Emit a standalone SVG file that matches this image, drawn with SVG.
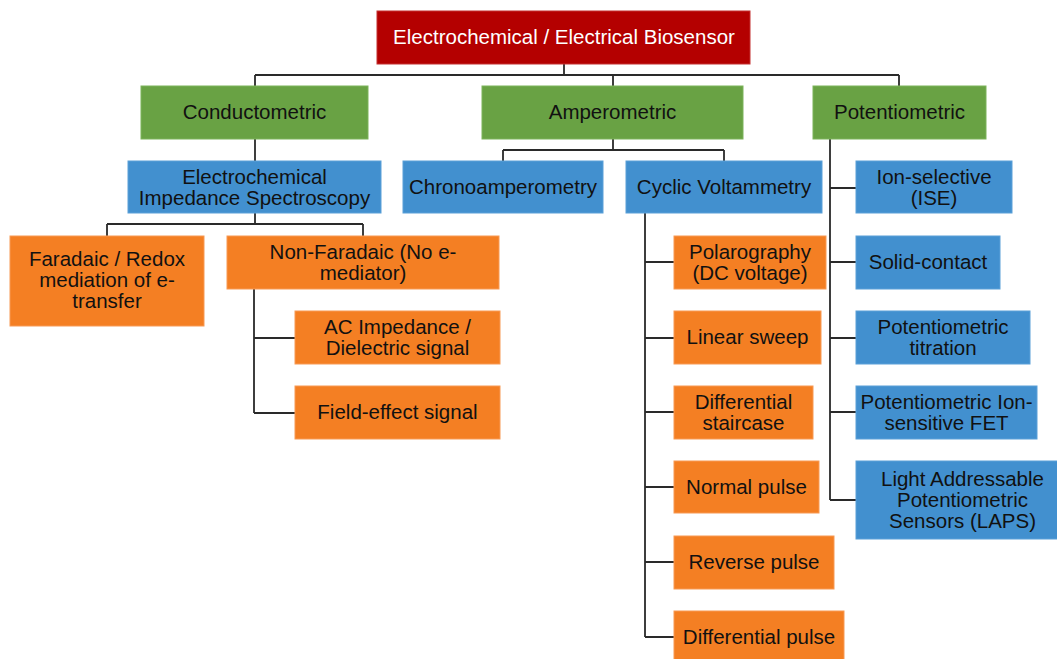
<svg xmlns="http://www.w3.org/2000/svg" width="1057" height="659" viewBox="0 0 1057 659">
<style>
  .box { stroke-width: 1; }
  .red { fill: #B40000; stroke: #C43030; }
  .green { fill: #69A244; stroke: #7DB35A; }
  .blue { fill: #4290CF; stroke: #5AA0D8; }
  .orange { fill: #F47F23; stroke: #F89A55; }
  text { font-family: "Liberation Sans", Arial, sans-serif; font-size: 20.5px; text-anchor: middle; fill: #111; }
  text.w { fill: #FFFFFF; }
  .conn { fill: none; stroke: #2A2A2A; stroke-width: 1.8; }
</style>
<rect width="1057" height="659" fill="#FFFFFF"/>
<g id="connectors" class="conn">
  <path d="M564,64 V75 M255,75 H899 M255,75 V86 M613,75 V86 M899,75 V86"/>
  <path d="M255,139 V161"/>
  <path d="M255,213 V224 M107,224 H363 M107,224 V236 M363,224 V236"/>
  <path d="M254,289 V413 M254,338 H295 M254,413 H295"/>
  <path d="M613,139 V150 M503,150 H724 M503,150 V161 M724,150 V161"/>
  <path d="M645,213 V637 M645,262 H674 M645,338 H674 M645,412 H674 M645,487 H674 M645,562 H674 M645,637 H674"/>
  <path d="M830,139 V500 M830,188 H856 M830,262 H856 M830,338 H856 M830,412 H856 M830,500 H856"/>
</g>
<g id="root"><rect class="box red" x="377" y="11" width="373" height="53"/><text class="w" x="564" y="44">Electrochemical / Electrical Biosensor</text></g>
<g id="conductometric"><rect class="box green" x="141" y="86" width="227" height="53"/><text x="254.5" y="119">Conductometric</text></g>
<g id="amperometric"><rect class="box green" x="482" y="86" width="261" height="53"/><text x="612.5" y="119">Amperometric</text></g>
<g id="potentiometric"><rect class="box green" x="813" y="86" width="173" height="53"/><text x="899.5" y="119">Potentiometric</text></g>
<g id="eis"><rect class="box blue" x="128" y="161" width="253" height="52"/><text x="254.5" y="183.5">Electrochemical</text><text x="254.5" y="204.5">Impedance Spectroscopy</text></g>
<g id="chrono"><rect class="box blue" x="403" y="161" width="200" height="52"/><text x="503" y="194">Chronoamperometry</text></g>
<g id="cv"><rect class="box blue" x="626" y="161" width="196" height="52"/><text x="724" y="194">Cyclic Voltammetry</text></g>
<g id="ise"><rect class="box blue" x="856" y="161" width="156" height="52"/><text x="934" y="183.5">Ion-selective</text><text x="934" y="204.5">(ISE)</text></g>
<g id="faradaic"><rect class="box orange" x="10" y="236" width="194" height="90"/><text x="107" y="266">Faradaic / Redox</text><text x="107" y="287">mediation of e-</text><text x="107" y="308">transfer</text></g>
<g id="nonfaradaic"><rect class="box orange" x="227" y="236" width="272" height="53"/><text x="363" y="258.5">Non-Faradaic (No e-</text><text x="363" y="279.5">mediator)</text></g>
<g id="acimpedance"><rect class="box orange" x="295" y="311" width="205" height="53"/><text x="397.5" y="333.5">AC Impedance /</text><text x="397.5" y="354.5">Dielectric signal</text></g>
<g id="fieldeffect"><rect class="box orange" x="295" y="386" width="205" height="53"/><text x="397.5" y="419">Field-effect signal</text></g>
<g id="polarography"><rect class="box orange" x="674" y="236" width="152" height="53"/><text x="750" y="258.5">Polarography</text><text x="750" y="279.5">(DC voltage)</text></g>
<g id="linear"><rect class="box orange" x="674" y="311" width="147" height="53"/><text x="747.5" y="344">Linear sweep</text></g>
<g id="diffstair"><rect class="box orange" x="674" y="386" width="139" height="53"/><text x="743.5" y="408.5">Differential</text><text x="743.5" y="429.5">staircase</text></g>
<g id="normal"><rect class="box orange" x="674" y="461" width="145" height="52"/><text x="746.5" y="494">Normal pulse</text></g>
<g id="reverse"><rect class="box orange" x="674" y="536" width="160" height="53"/><text x="754" y="569">Reverse pulse</text></g>
<g id="diffpulse"><rect class="box orange" x="674" y="611" width="170" height="53"/><text x="759" y="644">Differential pulse</text></g>
<g id="solid"><rect class="box blue" x="856" y="236" width="144" height="53"/><text x="928" y="269">Solid-contact</text></g>
<g id="titration"><rect class="box blue" x="856" y="311" width="174" height="53"/><text x="943" y="333.5">Potentiometric</text><text x="943" y="354.5">titration</text></g>
<g id="isfet"><rect class="box blue" x="856" y="386" width="181" height="53"/><text x="946.5" y="408.5">Potentiometric Ion-</text><text x="946.5" y="429.5">sensitive FET</text></g>
<g id="laps"><rect class="box blue" x="856" y="461" width="213" height="78"/><text x="962.5" y="485.5">Light Addressable</text><text x="962.5" y="506.5">Potentiometric</text><text x="962.5" y="527.5">Sensors (LAPS)</text></g>
</svg>
